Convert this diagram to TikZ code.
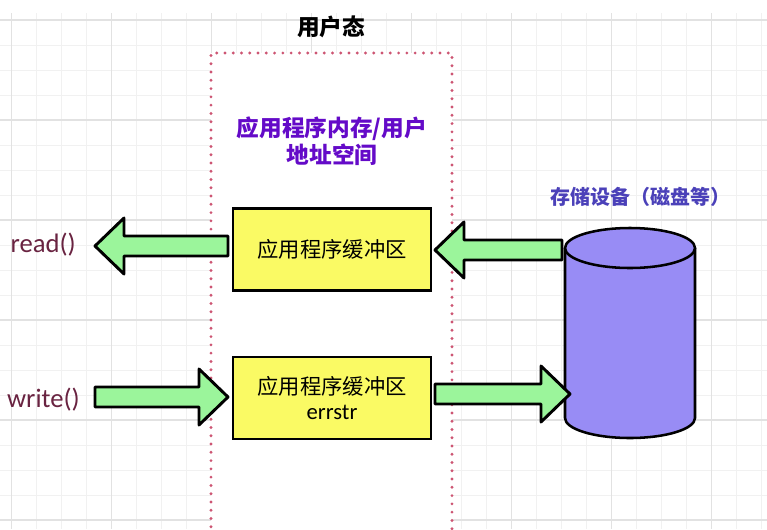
\documentclass[tikz,border=0pt]{standalone}
\usepackage{fontspec}
\setmainfont{Carlito}
\newfontfamily\cjk{Noto Sans CJK SC}
\definecolor{gridminor}{RGB}{241,241,241}
\definecolor{gridmajor}{RGB}{226,226,226}
\definecolor{dotred}{RGB}{205,85,115}
\definecolor{bufyellow}{RGB}{250,250,100}
\definecolor{arrgreen}{RGB}{155,245,155}
\definecolor{diskfill}{RGB}{152,140,245}
\definecolor{memPurple}{RGB}{100,10,200}
\definecolor{diskText}{RGB}{75,65,185}
\definecolor{callText}{RGB}{105,35,65}
\newcommand\blockarr[3]{%
  \pgfmathsetmacro\dirr{(#2>#1)?1:-1}%
  \pgfmathsetmacro\hb{#2-\dirr*29}%
  \draw[blockarrow] (#1,#3-10) -- (\hb,#3-10) -- (\hb,#3-28) -- (#2,#3) -- (\hb,#3+28) -- (\hb,#3+10) -- (#1,#3+10) -- cycle;}
\begin{document}
\begin{tikzpicture}[x=0.75pt,y=-0.75pt,
  minorline/.style={draw=gridminor,line width=0.6pt},
  majorline/.style={draw=gridmajor,line width=0.8pt},
  dotbox/.style={draw=dotred,line width=2.4pt,line cap=round,dash pattern=on 0pt off 6.2pt},
  buf/.style={draw=black,fill=bufyellow,line width=1.9pt,minimum width=148.5pt,minimum height=61.5pt,align=center,font=\cjk\fontsize{16}{18.75}\selectfont},
  blockarrow/.style={draw=black,fill=arrgreen,line width=2.2pt,line join=round},
  cyl/.style={draw=black,fill=diskfill,line width=1.9pt},
  calltext/.style={text=callText,font=\fontsize{20}{24}\selectfont,inner sep=0pt}]
\useasboundingbox (0,0) rectangle (767,529);
\fill[white] (0,0) rectangle (767,529);
% grid
\foreach \i in {0,...,30} \draw[minorline] ({11.7+25*\i},13) -- ({11.7+25*\i},529);
\foreach \j in {0,...,20} \draw[minorline] (0,{20+25*\j}) -- (767,{20+25*\j});
\foreach \i in {0,...,7} \draw[majorline] ({11.7+100*\i},13) -- ({11.7+100*\i},529);
\foreach \j in {0,...,5} \draw[majorline] (0,{20+100*\j}) -- (767,{20+100*\j});
% user space region
\fill[white] (211,53) rectangle (452,535);
\draw[dotbox] (211,535) -- (211,53) -- (452,53) -- (452,535);
\node[font=\cjk\bfseries\fontsize{17}{20}\selectfont] (state) at (331,27) {用户态};
\node[text=memPurple,align=center,font=\cjk\bfseries\fontsize{17}{20.25}\selectfont] (mem) at (332,141) {应用程序内存/用户\\地址空间};
% buffers
\node[buf] (buf1) at (332,249.5) {应用程序缓冲区};
\node[buf] (buf2) at (332,398) {应用程序缓冲区\\{\fontspec{Carlito}\fontsize{17}{18.75}\selectfont errstr}};
% calls
\node[calltext,anchor=east] (read) at (76,245) {read()};
\node[calltext,anchor=east] (write) at (80,400) {write()};
% disk
\node[text=diskText,font=\cjk\bfseries\fontsize{15}{18}\selectfont] (disklabel) at (640,197) {存储设备（磁盘等）};
\coordinate (disk) at (630,333);
\draw[cyl] (565,248) -- (565,418) arc[start angle=180,end angle=360,x radius=48.75pt,y radius=15pt] -- (695,248);
\draw[cyl] (630,248) ellipse[x radius=48.75pt,y radius=15pt];
% arrows
\blockarr{228}{95}{246}
\blockarr{562}{435}{250}
\blockarr{95}{228}{397}
\blockarr{435}{570}{394}
\end{tikzpicture}
\end{document}
